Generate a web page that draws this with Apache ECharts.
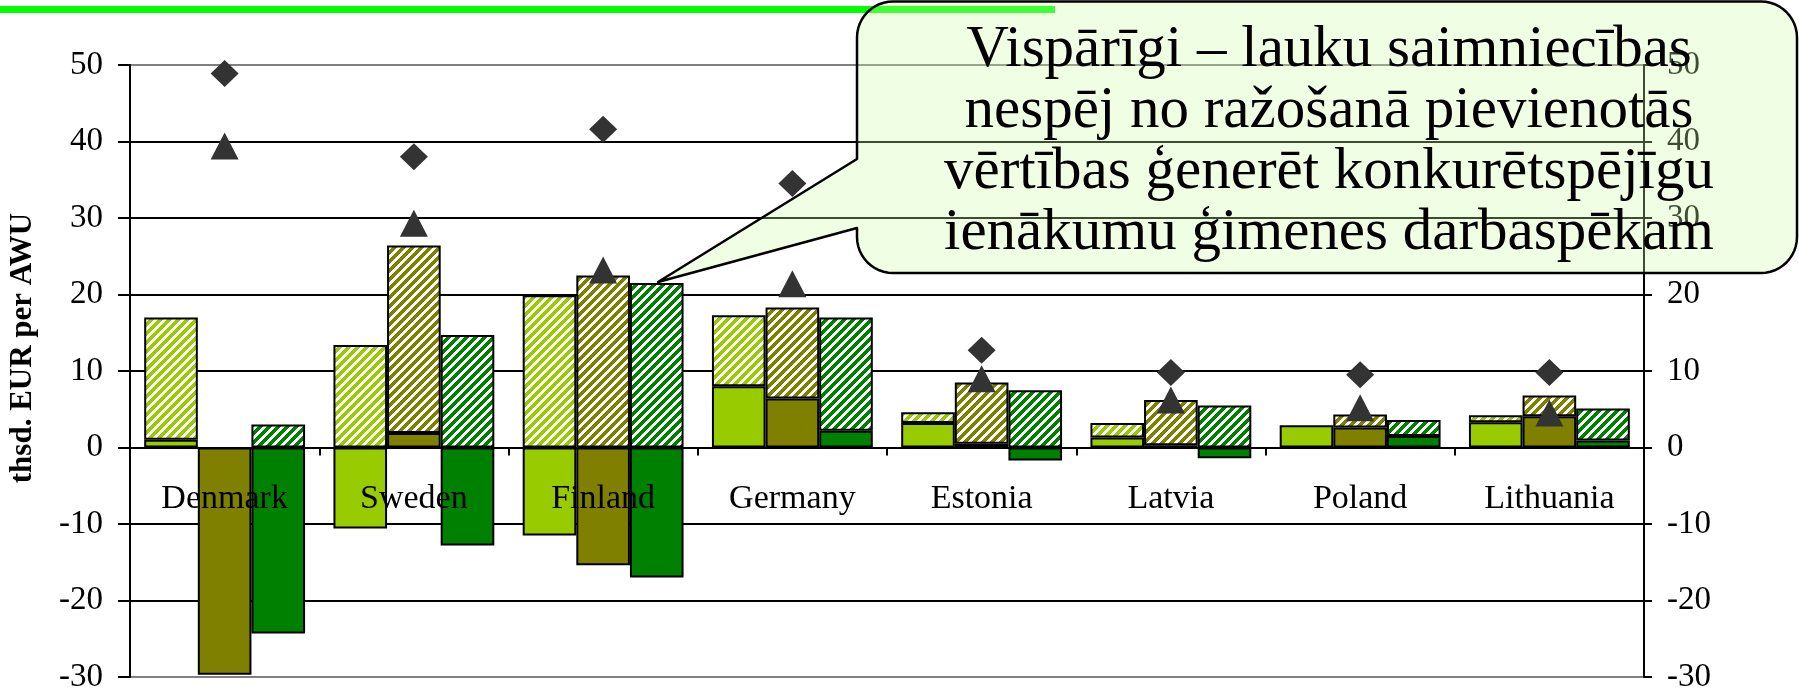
<!DOCTYPE html>
<html>
<head>
<meta charset="utf-8">
<script src="https://cdn.jsdelivr.net/npm/echarts@6/dist/echarts.min.js"></script>
<style>
html,body{margin:0;padding:0;background:#fff;}
#chart{width:1799px;height:694px;}
</style>
</head>
<body>
<div id="chart"></div>
<script>
// ---- data ----
const categories = ['Denmark','Sweden','Finland','Germany','Estonia','Latvia','Poland','Lithuania'];
// light green group: solid part and hatched part (stacked on top)
const solidA = [1.0, -10.6, -11.5, 8.0, 3.2, 1.3, 2.9, 3.3];
const hatchA = [16.0, 13.4, 19.9, 9.3, 1.4, 1.9, null, 0.9];
// olive group
const solidB = [-29.7, 1.9, -15.4, 6.4, 0.5, 0.3, 2.6, 4.1];
const hatchB = [null, 24.5, 22.5, 11.9, 8.0, 5.9, 1.7, 2.7];
// green group
const solidC = [-24.3, -12.8, -17.0, 2.2, -1.7, -1.4, 1.5, 0.9];
const hatchC = [3.0, 14.7, 21.5, 14.8, 7.5, 5.5, 2.1, 4.2];
// markers
const diamonds = [48.9, 38.0, 41.6, 34.5, 12.7, 9.8, 9.5, 9.8];
const triangles = [39.4, 29.3, 23.2, 21.4, 9.0, 6.2, 5.2, 4.5];
const yTitle = 'thsd. EUR per AWU';
const calloutLines = [
  'Vispārīgi – lauku saimniecības',
  'nespēj no ražošanā pievienotās',
  'vērtības ģenerēt konkurētspējīgu',
  'ienākumu ģimenes darbaspēkam'
];

// ---- styling ----
const LIGHT = '#99CC00', OLIVE = '#808000', GREEN = '#008000';
const FONT = '"Liberation Serif", "Times New Roman", serif';

function hatch(color) {
  const n = 9;
  const c = document.createElement('canvas');
  c.width = n; c.height = n;
  const g = c.getContext('2d');
  g.fillStyle = '#ffffff'; g.fillRect(0, 0, n, n);
  g.fillStyle = color;
  for (let y = 0; y < n; y++) for (let x = 0; x < n; x++) {
    if ((x + y) % n < 5) g.fillRect(x, y, 1, 1);
  }
  return { image: c, repeat: 'repeat' };
}

function barSeries(name, data, stack, color) {
  return {
    name, type: 'bar', stack, data,
    barGap: '0%', barCategoryGap: '15%',
    itemStyle: { color: color, borderColor: '#000', borderWidth: 2 },
    emphasis: { disabled: true },
    z: 2
  };
}

const chart = echarts.init(document.getElementById('chart'), null, { renderer: 'canvas' });

const gridColors = ['#808080', '#000', '#000', '#000', '#000', '#000', '#000', '#000', '#808080'];

// callout outline (rounded box with a pointer) as polygon points
const L = 857, T = 1.5, R = 1797, B = 273, r = 36;
const py1 = 159, py2 = 228, tx = 658, ty = 282;
function arc(cx, cy, a0, a1) {
  const pts = [];
  for (let k = 0; k <= 12; k++) {
    const a = (a0 + (a1 - a0) * k / 12) * Math.PI / 180;
    pts.push([cx + r * Math.cos(a), cy + r * Math.sin(a)]);
  }
  return pts;
}
const calloutPts = []
  .concat(arc(L + r, T + r, 180, 270))
  .concat(arc(R - r, T + r, 270, 360))
  .concat(arc(R - r, B - r, 0, 90))
  .concat(arc(L + r, B - r, 90, 180))
  .concat([[L, py2], [tx, ty], [L, py1]]);

const calloutTexts = calloutLines.map((t, i) => ({
  type: 'text', x: 1329, y: 50 + i * 61, z: 110,
  style: { text: t, fontFamily: FONT, fontSize: 59, fill: '#000', align: 'center', verticalAlign: 'middle' }
}));

// plot geometry: zero line sits 30/80 of the plot height above the bottom
const gridTop = 65, gridBottom = 17, plotH = 694 - gridTop - gridBottom;
const zeroFromBottom = plotH * 30 / 80;

chart.setOption({
  animation: false,
  backgroundColor: '#fff',
  grid: { left: 130, right: 155, top: gridTop, bottom: gridBottom, containLabel: false, outerBoundsMode: 'none' },
  xAxis: [{
    type: 'category', data: categories,
    axisLine: { onZero: true, onZeroAxisIndex: 0, lineStyle: { color: '#000', width: 2 } },
    axisTick: { show: true, length: 8, interval: 0, lineStyle: { color: '#000', width: 2 } },
    axisLabel: { show: false },
    splitLine: { show: false }
  }, {
    type: 'category', data: categories, position: 'bottom', offset: -zeroFromBottom, z: 20,
    axisLine: { show: false, onZero: false },
    axisTick: { show: false },
    axisLabel: { show: true, interval: 0, margin: 35, color: '#000', fontFamily: FONT, fontSize: 34 },
    splitLine: { show: false }
  }],
  yAxis: [{
    type: 'value', min: -30, max: 50, interval: 10, position: 'left',
    axisLine: { show: true, lineStyle: { color: '#000', width: 2 } },
    axisTick: { show: true, length: 12, lineStyle: { color: '#000', width: 2 } },
    axisLabel: { margin: 27, color: '#000', fontFamily: FONT, fontSize: 33 },
    splitLine: { show: true, lineStyle: { color: gridColors, width: 2 } }
  }, {
    type: 'value', min: -30, max: 50, interval: 10, position: 'right',
    axisLine: { show: true, lineStyle: { color: '#000', width: 2 } },
    axisTick: { show: true, length: 8, lineStyle: { color: '#000', width: 2 } },
    axisLabel: { margin: 23, color: '#000', fontFamily: FONT, fontSize: 33 },
    splitLine: { show: false }
  }],
  series: [
    barSeries('A solid', solidA, 'A', LIGHT),
    barSeries('A hatched', hatchA, 'A', hatch(LIGHT)),
    barSeries('B solid', solidB, 'B', OLIVE),
    barSeries('B hatched', hatchB, 'B', hatch(OLIVE)),
    barSeries('C solid', solidC, 'C', GREEN),
    barSeries('C hatched', hatchC, 'C', hatch(GREEN)),
    { name: 'diamond', type: 'scatter', data: diamonds, symbol: 'diamond', symbolSize: [28, 27],
      itemStyle: { color: '#333333', opacity: 1 }, z: 5, emphasis: { disabled: true } },
    { name: 'triangle', type: 'scatter', data: triangles, symbol: 'triangle', symbolSize: [28, 27],
      itemStyle: { color: '#333333', opacity: 1 }, z: 5, emphasis: { disabled: true } }
  ],
  graphic: [
    { type: 'line', z: 90, shape: { x1: 0, y1: 9.5, x2: 1055, y2: 9.5 }, style: { stroke: '#00FF00', lineWidth: 7 } },
    { type: 'text', x: 23, y: 348, rotation: Math.PI / 2, z: 90,
      style: { text: yTitle, fontFamily: FONT, fontWeight: 'bold', fontSize: 31, fill: '#000', align: 'center', verticalAlign: 'middle' } },
    { type: 'polygon', z: 100, shape: { points: calloutPts },
      style: { fill: 'rgba(205,255,165,0.3)', stroke: '#000', lineWidth: 2.5, lineJoin: 'round' } }
  ].concat(calloutTexts)
});
</script>
</body>
</html>
